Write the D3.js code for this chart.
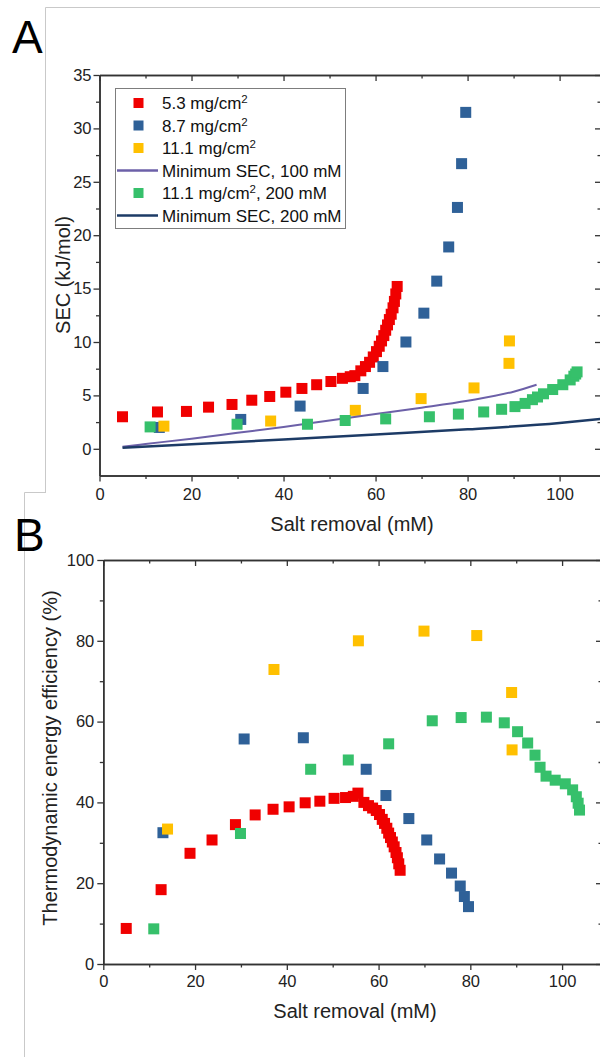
<!DOCTYPE html>
<html><head><meta charset="utf-8">
<script src="https://cdn.jsdelivr.net/npm/d3@7"></script>
<style>
body{margin:0;background:#fff}
text{font-family:"Liberation Sans",Arial,sans-serif;fill:#222}
</style>
</head><body><svg id="c" width="600" height="1057"></svg>
<script>
// ---------- data ----------
const xRed = [5.0, 12.6, 18.9, 23.7, 28.8, 33.1, 37.0, 40.5, 44.0, 47.2, 50.3, 52.8, 54.5, 55.5, 56.8, 57.8, 58.7, 59.5, 60.2, 60.8, 61.3, 61.8, 62.2, 62.6, 63.0, 63.4, 63.8, 64.1, 64.4, 64.7];
const secRed = [3.0, 3.45, 3.5, 3.9, 4.15, 4.55, 4.9, 5.3, 5.65, 6.0, 6.3, 6.6, 6.75, 6.85, 7.3, 7.7, 8.1, 8.6, 9.1, 9.6, 10.1, 10.6, 11.1, 11.6, 12.1, 12.6, 13.2, 13.8, 14.5, 15.2];
const effRed = [8.8, 18.4, 27.4, 30.7, 34.5, 36.9, 38.3, 38.9, 39.9, 40.3, 41.0, 41.2, 41.5, 42.3, 40.0, 39.2, 38.6, 38.0, 37.0, 35.8, 34.8, 33.6, 32.4, 31.3, 30.2, 29.0, 27.6, 26.3, 24.8, 23.2];

const xBlue = [13.0, 30.7, 43.6, 57.3, 61.6, 66.6, 70.5, 73.3, 75.9, 77.8, 78.7, 79.6];
const secBlue = [2.0, 2.75, 4.0, 5.65, 7.7, 10.0, 12.7, 15.7, 18.9, 22.6, 26.7, 31.5];
const effBlue = [32.5, 55.7, 56.0, 48.2, 41.7, 36.0, 30.7, 26.0, 22.5, 19.3, 16.7, 14.2];

const xYellow = [14.0, 37.2, 55.6, 69.9, 81.4, 89.0, 89.1];
const secYellow = [2.12, 2.6, 3.6, 4.7, 5.7, 8.0, 10.1];
const effYellow = [33.4, 72.9, 80.0, 82.4, 81.3, 67.2, 53.0];

const xGreen = [11.0, 29.9, 45.2, 53.4, 62.2, 71.7, 78.0, 83.5, 87.4, 90.3, 92.5, 94.1, 95.2, 96.5, 98.5, 100.7, 102.3, 103.1, 103.5, 103.8];
const secGreen = [2.05, 2.3, 2.3, 2.65, 2.8, 3.0, 3.25, 3.45, 3.7, 3.95, 4.25, 4.6, 4.85, 5.15, 5.55, 6.0, 6.45, 6.8, 7.0, 7.2];
const effGreen = [8.7, 32.3, 48.2, 50.5, 54.5, 60.2, 61.0, 61.1, 59.7, 57.5, 54.7, 51.7, 48.7, 46.5, 45.5, 44.6, 43.1, 41.4, 39.8, 38.1];

const minSec100X = [5, 10, 20, 30, 40, 50, 60, 70, 80, 90, 95];
const minSec100Y = [0.2, 0.45, 0.95, 1.5, 2.05, 2.65, 3.25, 3.85, 4.5, 5.35, 6.0];
const minSec200X = [5, 20, 40, 60, 80, 100, 109];
const minSec200Y = [0.1, 0.42, 0.88, 1.35, 1.82, 2.42, 2.8];

const xTicks = [0, 20, 40, 60, 80, 100];
const xMinor = [10, 30, 50, 70, 90];
const secTicks = [0, 5, 10, 15, 20, 25, 30, 35];
const secMinor = [2.5, 7.5, 12.5, 17.5, 22.5, 27.5, 32.5];
const effTicks = [0, 20, 40, 60, 80, 100];
const effMinor = [10, 30, 50, 70, 90];

const legendLabels = [
  {type: "sq", key: "red", main: "5.3 mg/cm", sup: "2", rest: ""},
  {type: "sq", key: "blue", main: "8.7 mg/cm", sup: "2", rest: ""},
  {type: "sq", key: "yellow", main: "11.1 mg/cm", sup: "2", rest: ""},
  {type: "ln", key: "purple", main: "Minimum SEC, 100 mM", sup: "", rest: ""},
  {type: "sq", key: "green", main: "11.1 mg/cm", sup: "2", rest: ", 200 mM"},
  {type: "ln", key: "navy", main: "Minimum SEC, 200 mM", sup: "", rest: ""}
];

const colors = {red: "#f00000", blue: "#2f6198", yellow: "#ffc000", green: "#36c06b", purple: "#6c60a8", navy: "#1d3b66"};

// ---------- drawing ----------
const svg = d3.select("#c");
svg.append("rect").attr("width", 600).attr("height", 1057).attr("fill", "#fff");

// card frames
svg.append("path").attr("d", "M45.5,492 V7.5 H600").attr("fill", "none").attr("stroke", "#c9c9c9").attr("stroke-width", 1);
svg.append("path").attr("d", "M24.5,1057 V492.5 H46").attr("fill", "none").attr("stroke", "#c9c9c9").attr("stroke-width", 1);

svg.append("text").attr("x", 12).attr("y", 53).attr("font-size", 46).style("fill", "#000").text("A");
svg.append("text").attr("x", 14).attr("y", 551).attr("font-size", 46).style("fill", "#000").text("B");

function drawAxes(x, y, xMaj, xMin, yMaj, yMin, padX, padY) {
  const [x0, x1] = x.range();
  const [y0, y1] = y.range();
  const g = svg.append("g");
  const style = sel => {
    sel.selectAll(".domain").attr("stroke", "#333").attr("stroke-width", 1.5);
    sel.selectAll(".tick line").attr("stroke", "#333").attr("stroke-width", 1.3);
    sel.selectAll(".tick text").attr("font-size", 16.5).style("fill", "#222").attr("font-family", "Liberation Sans, Arial, sans-serif");
  };
  g.append("g").attr("transform", `translate(0,${y0})`)
    .call(d3.axisBottom(x).tickValues(xMaj).tickSize(6).tickSizeOuter(0).tickPadding(padX)).call(style);
  g.append("g").attr("transform", `translate(0,${y0})`)
    .call(d3.axisBottom(x).tickValues(xMin).tickSize(3.5).tickSizeOuter(0).tickFormat("")).call(style);
  g.append("g").attr("transform", `translate(0,${y1})`)
    .call(d3.axisTop(x).tickValues(xMaj).tickSize(-6).tickSizeOuter(0).tickFormat("")).call(style);
  g.append("g").attr("transform", `translate(0,${y1})`)
    .call(d3.axisTop(x).tickValues(xMin).tickSize(-3.5).tickSizeOuter(0).tickFormat("")).call(style);
  g.append("g").attr("transform", `translate(${x0},0)`)
    .call(d3.axisLeft(y).tickValues(yMaj).tickSize(6).tickSizeOuter(0).tickPadding(padY)).call(style);
  g.append("g").attr("transform", `translate(${x0},0)`)
    .call(d3.axisLeft(y).tickValues(yMin).tickSize(3.5).tickSizeOuter(0).tickFormat("")).call(style);
  g.append("g").attr("transform", `translate(${x1},0)`)
    .call(d3.axisRight(y).tickValues(yMaj).tickSize(-6).tickSizeOuter(0).tickFormat("")).call(style);
  g.append("g").attr("transform", `translate(${x1},0)`)
    .call(d3.axisRight(y).tickValues(yMin).tickSize(-3.5).tickSizeOuter(0).tickFormat("")).call(style);
}

function drawSquares(x, y, xs, ys, color, size) {
  svg.append("g").selectAll("rect").data(d3.range(xs.length)).join("rect")
    .attr("x", i => x(xs[i]) - size / 2)
    .attr("y", i => y(ys[i]) - size / 2)
    .attr("width", size).attr("height", size)
    .attr("fill", color);
}

function drawLine(x, y, xs, ys, color, w) {
  const line = d3.line().x(i => x(xs[i])).y(i => y(ys[i])).curve(d3.curveMonotoneX);
  svg.append("path").attr("d", line(d3.range(xs.length)))
    .attr("fill", "none").attr("stroke", color).attr("stroke-width", w);
}

// ---------- Panel A ----------
const xA = d3.scaleLinear().domain([0, 109]).range([99.5, 601]);
const yA = d3.scaleLinear().domain([-2.5, 35]).range([475.5, 75]);
drawAxes(xA, yA, xTicks, xMinor, secTicks, secMinor, 7, 2);

drawSquares(xA, yA, xRed, secRed, colors.red, 11);
drawSquares(xA, yA, xBlue, secBlue, colors.blue, 11);
drawSquares(xA, yA, xYellow, secYellow, colors.yellow, 11);
drawLine(xA, yA, minSec100X, minSec100Y, colors.purple, 2);
drawSquares(xA, yA, xGreen, secGreen, colors.green, 11);
drawLine(xA, yA, minSec200X, minSec200Y, colors.navy, 2.5);

svg.append("text").attr("transform", "translate(70,275) rotate(-90)")
  .attr("text-anchor", "middle").attr("font-size", 20).text("SEC (kJ/mol)");
svg.append("text").attr("x", 352).attr("y", 531)
  .attr("text-anchor", "middle").attr("font-size", 20).text("Salt removal (mM)");

// legend
const lg = svg.append("g");
lg.append("rect").attr("x", 115.5).attr("y", 88.5).attr("width", 230).attr("height", 140)
  .attr("fill", "#fff").attr("stroke", "#7d7d7d").attr("stroke-width", 1);
legendLabels.forEach((d, i) => {
  const cy = 103 + i * 22.5;
  if (d.type === "sq") {
    lg.append("rect").attr("x", 138.5 - 5).attr("y", cy - 5).attr("width", 10).attr("height", 10).attr("fill", colors[d.key]);
  } else {
    lg.append("line").attr("x1", 117).attr("x2", 158).attr("y1", cy).attr("y2", cy)
      .attr("stroke", colors[d.key]).attr("stroke-width", 2.5);
  }
  const t = lg.append("text").attr("x", 162).attr("y", cy + 6).attr("font-size", 17).style("fill", "#111");
  t.append("tspan").text(d.main);
  if (d.sup) {
    t.append("tspan").attr("dy", -6).attr("font-size", 11.5).text(d.sup);
    if (d.rest) t.append("tspan").attr("dy", 6).text(d.rest);
  }
});

// ---------- Panel B ----------
const xB = d3.scaleLinear().domain([0, 108.7]).range([103.3, 602]);
const yB = d3.scaleLinear().domain([0, 100]).range([964, 560]);
drawAxes(xB, yB, xTicks, xMinor, effTicks, effMinor, 5.5, 3);

drawSquares(xB, yB, xRed, effRed, colors.red, 11);
drawSquares(xB, yB, xBlue, effBlue, colors.blue, 11);
drawSquares(xB, yB, xYellow, effYellow, colors.yellow, 11);
drawSquares(xB, yB, xGreen, effGreen, colors.green, 11);

svg.append("text").attr("transform", "translate(57,758) rotate(-90)")
  .attr("text-anchor", "middle").attr("font-size", 20).text("Thermodynamic energy efficiency (%)");
svg.append("text").attr("x", 355).attr("y", 1018)
  .attr("text-anchor", "middle").attr("font-size", 20).text("Salt removal (mM)");
</script>
</body></html>
